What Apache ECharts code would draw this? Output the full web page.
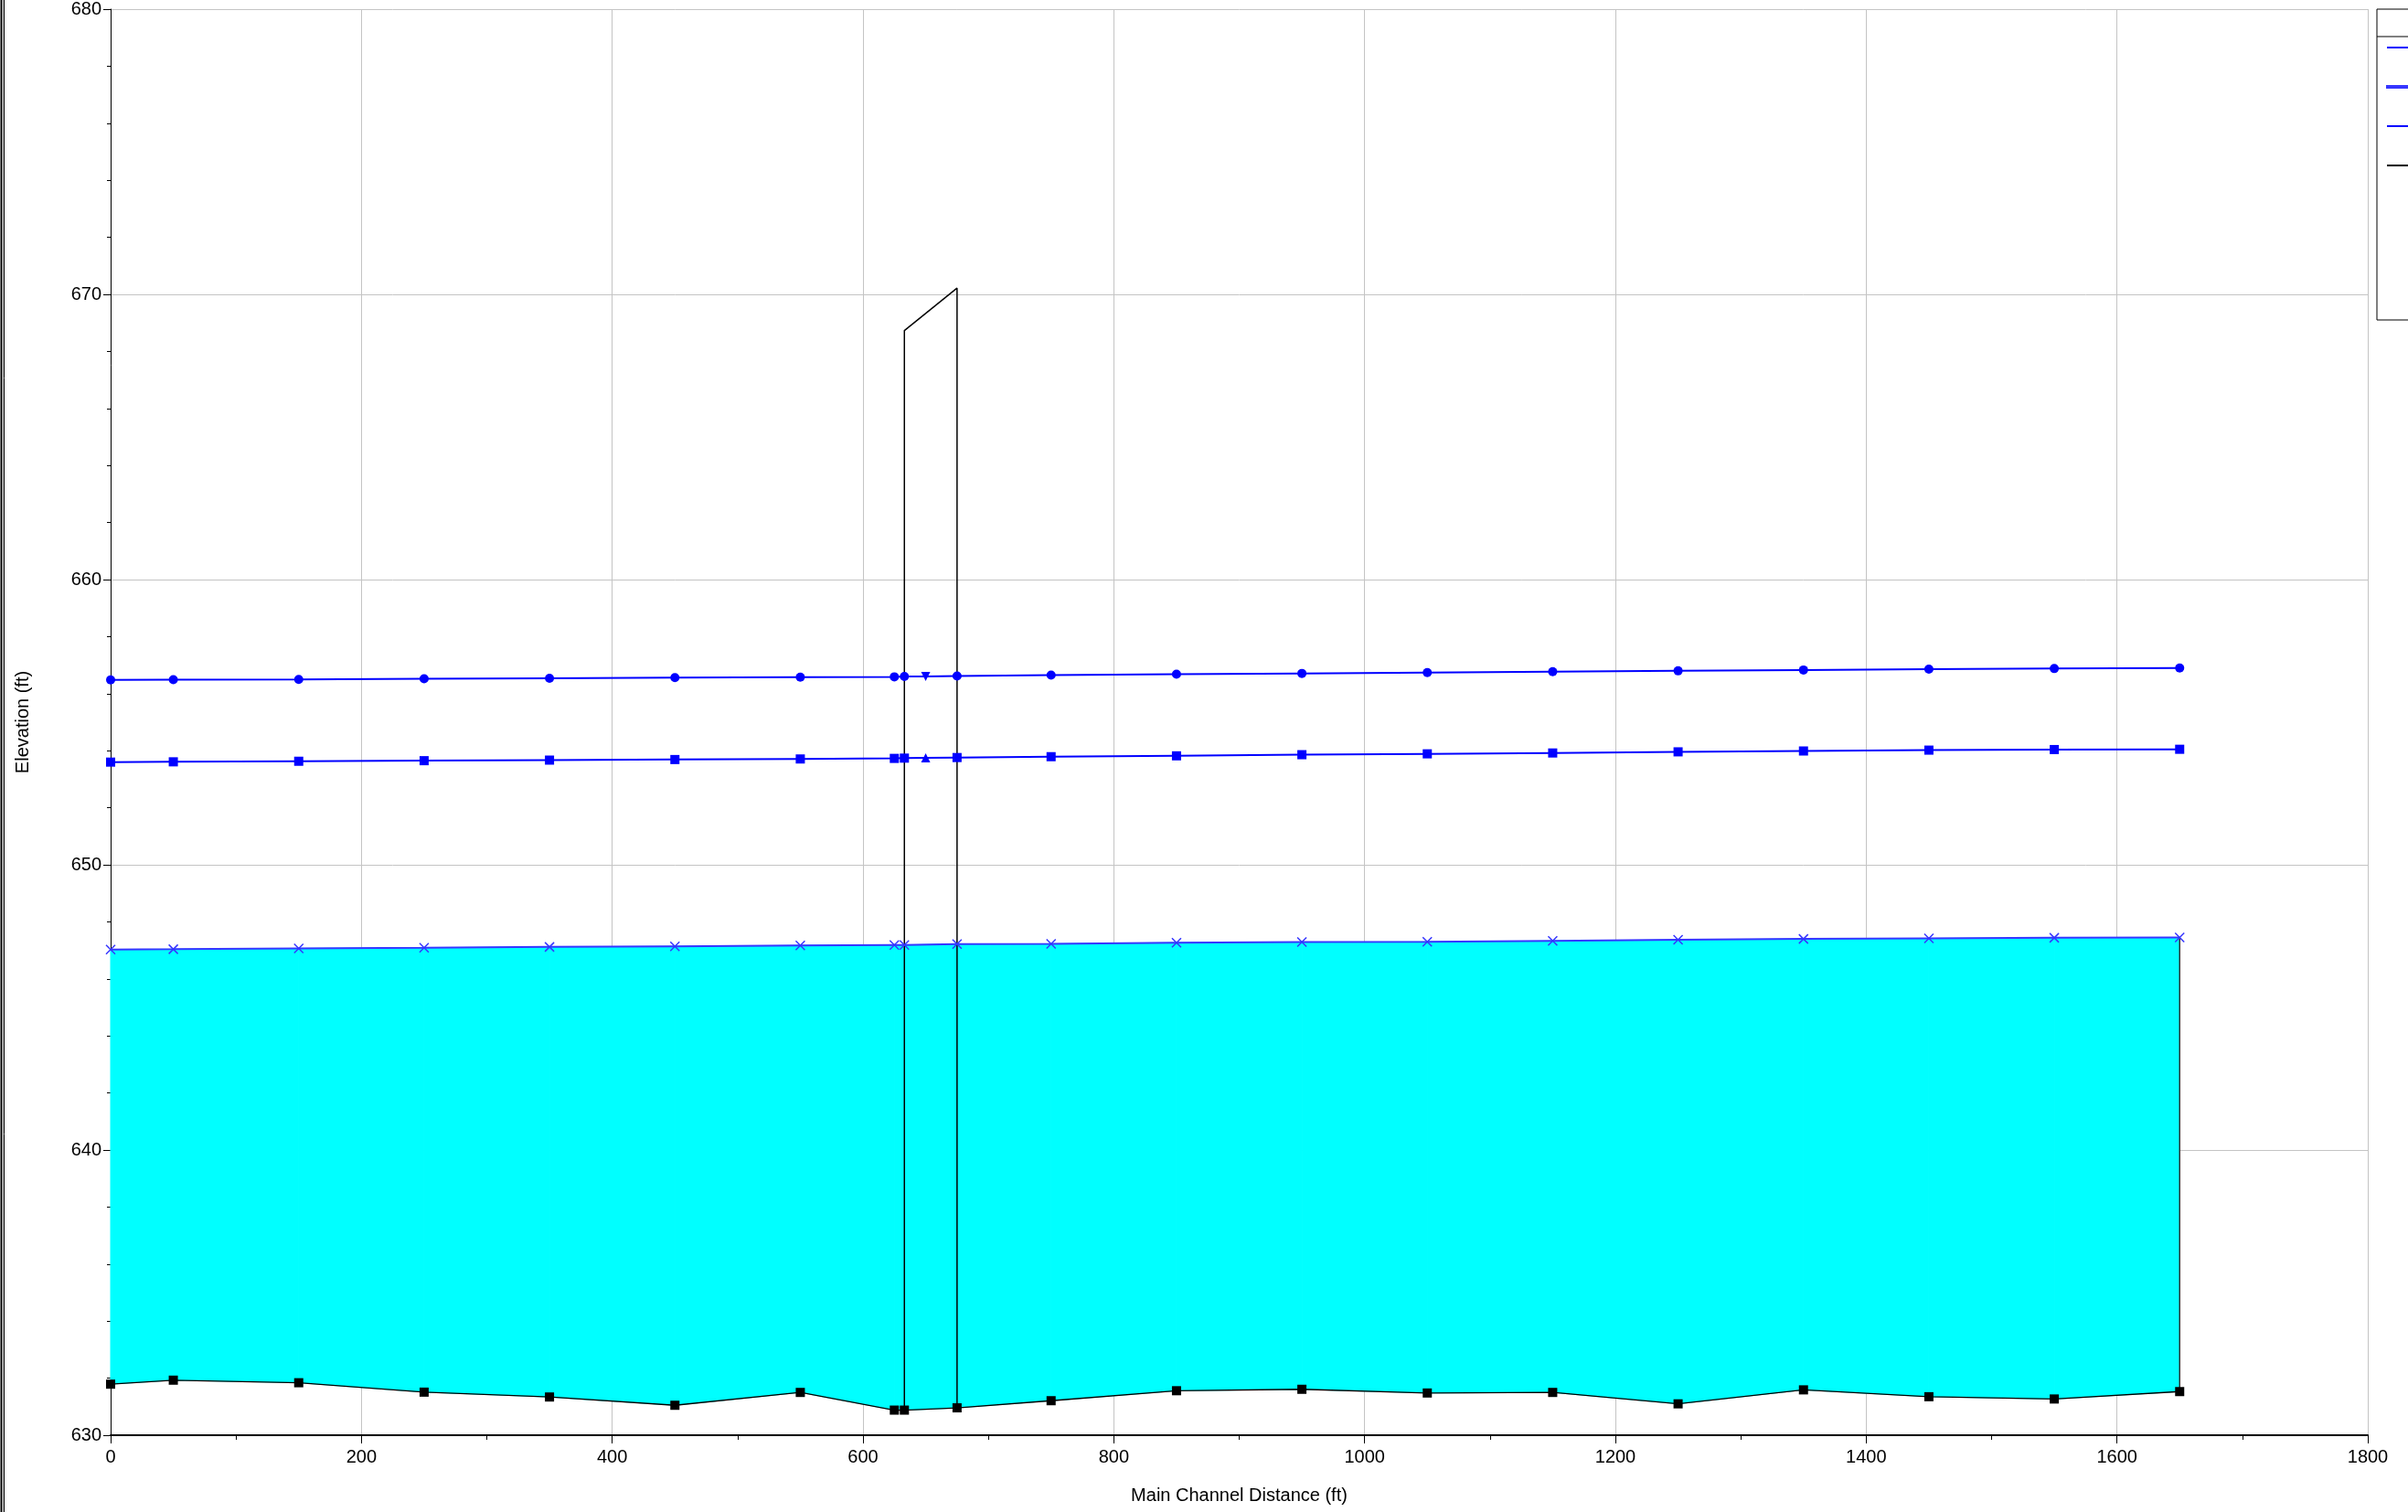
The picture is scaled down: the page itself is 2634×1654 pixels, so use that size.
<!DOCTYPE html>
<html>
<head>
<meta charset="utf-8">
<script src="https://cdn.jsdelivr.net/npm/echarts@6/dist/echarts.min.js"></script>
<style>
    html, body { margin: 0; padding: 0; background: #fff; }
    #chart { width: 2634px; height: 1654px; }
</style>
</head>
<body>
<div id="chart"></div>
<script type="text/javascript">
    // river stations along the main channel (ft)
    var stations = [0, 50, 150, 250, 350, 450, 550, 625, 633, 675, 750, 850, 950, 1050, 1150, 1250, 1350, 1450, 1550, 1650];
    var groundElev = [631.79, 631.93, 631.84, 631.51, 631.34, 631.05, 631.50, 630.88, 630.88, 630.96, 631.21, 631.56, 631.61, 631.48, 631.50, 631.10, 631.59, 631.35, 631.27, 631.53];
    var wsElev = [647.03, 647.04, 647.07, 647.09, 647.12, 647.14, 647.17, 647.19, 647.19, 647.22, 647.23, 647.27, 647.29, 647.30, 647.33, 647.37, 647.40, 647.42, 647.44, 647.45];
    var critElev = [653.60, 653.61, 653.63, 653.65, 653.67, 653.69, 653.71, 653.73, 653.74, 653.76, 653.79, 653.82, 653.86, 653.89, 653.92, 653.96, 653.99, 654.02, 654.04, 654.05];
    var egElev = [656.48, 656.49, 656.50, 656.52, 656.54, 656.56, 656.58, 656.59, 656.60, 656.62, 656.65, 656.68, 656.71, 656.74, 656.77, 656.80, 656.83, 656.86, 656.88, 656.90];

    // bridge: middle marker and deck outline
    var bridgeMid = 650;
    var egBridge = 656.60;
    var critBridge = 653.75;
    var deckDist = [633, 633, 675, 675];
    var deckElev = [630.88, 668.73, 670.22, 630.96];

    var FONT = "'Liberation Sans', Arial, sans-serif";
    var BLUE = '#0000ff';
    var WSBLUE = '#3636ff';
    var WATER = '#00ffff';

    function pairs(xs, ys) {
        var out = [];
        for (var i = 0; i < xs.length; i++) out.push([xs[i], ys[i]]);
        return out;
    }
    // insert the bridge middle point with its own marker
    function withBridge(xs, ys, midVal, sym, rot) {
        var out = pairs(xs, ys);
        out.push({value: [bridgeMid, midVal], symbol: sym, symbolRotate: rot});
        out.sort(function (a, b) {
            var xa = a.value ? a.value[0] : a[0];
            var xb = b.value ? b.value[0] : b[0];
            return xa - xb;
        });
        return out;
    }

    // water fill between ground and water surface, one quad per reach
    var waterData = [];
    for (var i = 0; i < stations.length; i++) waterData.push([stations[i], wsElev[i], groundElev[i]]);
    var last = stations.length - 1;

    function renderWater(params, api) {
        var i = params.dataIndex;
        if (i >= waterData.length - 1) return;
        var a = waterData[i], b = waterData[i + 1];
        var pts = [
            api.coord([a[0], a[1]]),
            api.coord([b[0], b[1]]),
            api.coord([b[0], b[2]]),
            api.coord([a[0], a[2]])
        ];
        return {
            type: 'polygon',
            shape: {points: pts},
            style: {fill: WATER, stroke: WATER, lineWidth: 1}
        };
    }

    var myChart = echarts.init(document.getElementById('chart'));

    var option = {
        animation: false,
        backgroundColor: '#fff',
        textStyle: {fontFamily: FONT},
        grid: {left: 121, top: 10, right: 44, bottom: 84},
        legend: {
            orient: 'vertical',
            left: 2600,
            top: 10,
            padding: [30, 10, 157, 10],
            itemGap: 19,
            itemWidth: 30,
            itemHeight: 2,
            icon: 'rect',
            borderColor: '#000',
            borderWidth: 1,
            textStyle: {fontSize: 20, lineHeight: 24, color: '#000', fontFamily: FONT},
            data: ['EG  PF 1', 'WS  PF 1', 'Crit  PF 1', 'Ground']
        },
        xAxis: {
            type: 'value',
            min: 0,
            max: 1800,
            interval: 200,
            name: 'Main Channel Distance (ft)',
            nameLocation: 'middle',
            nameGap: 56,
            nameTextStyle: {fontSize: 20, color: '#000', fontFamily: FONT},
            axisLine: {show: true, onZero: false, lineStyle: {color: '#000', width: 2}},
            axisTick: {length: 9, lineStyle: {color: '#000'}},
            minorTick: {show: true, splitNumber: 2, length: 5, lineStyle: {color: '#000'}},
            axisLabel: {fontSize: 20, color: '#000', margin: 14, fontFamily: FONT,
                formatter: function (v) { return String(v); }},
            splitLine: {show: true, lineStyle: {color: '#c4c4c4', width: 1}}
        },
        yAxis: {
            type: 'value',
            min: 630,
            max: 680,
            interval: 10,
            name: 'Elevation (ft)',
            nameLocation: 'middle',
            nameGap: 86,
            nameTextStyle: {fontSize: 20, color: '#000', fontFamily: FONT},
            axisLine: {show: true, onZero: false, lineStyle: {color: '#000', width: 1}},
            axisTick: {length: 8, lineStyle: {color: '#000'}},
            minorTick: {show: true, splitNumber: 5, length: 4, lineStyle: {color: '#000'}},
            axisLabel: {fontSize: 20, color: '#000', margin: 10, fontFamily: FONT},
            splitLine: {show: true, lineStyle: {color: '#c4c4c4', width: 1}}
        },
        graphic: [
            // legend header divider
            {type: 'line', shape: {x1: 2600, y1: 40, x2: 2634, y2: 40}, style: {stroke: '#000', lineWidth: 1}},
            // outer window frame on the left
            {type: 'line', shape: {x1: 1.5, y1: 0, x2: 1.5, y2: 1654}, style: {stroke: '#000', lineWidth: 2}},
            {type: 'line', shape: {x1: 3, y1: 0, x2: 3, y2: 1654}, style: {stroke: '#9a9a9a', lineWidth: 1}},
            {type: 'line', shape: {x1: 4.5, y1: 0, x2: 4.5, y2: 1654}, style: {stroke: '#000', lineWidth: 1}}
        ],
        series: [
            {
                name: 'water',
                type: 'custom',
                renderItem: renderWater,
                data: waterData,
                encode: {x: 0, y: [1, 2]},
                silent: true,
                z: 1
            },
            {
                name: 'Ground',
                type: 'line',
                data: pairs(stations, groundElev),
                symbol: 'rect',
                symbolSize: 10,
                itemStyle: {color: '#000'},
                lineStyle: {color: '#000', width: 1.3},
                z: 3
            },
            {
                name: 'Bridge',
                type: 'line',
                data: pairs(deckDist, deckElev),
                showSymbol: false,
                lineStyle: {color: '#000', width: 1.5},
                z: 3
            },
            {
                name: 'edge',
                type: 'line',
                data: [[stations[last], groundElev[last]], [stations[last], wsElev[last]]],
                showSymbol: false,
                lineStyle: {color: '#333', width: 1.5},
                z: 2
            },
            {
                name: 'WS  PF 1',
                type: 'line',
                data: pairs(stations, wsElev),
                symbol: 'path://M0,0 L10,10 M10,0 L0,10',
                symbolSize: 10,
                itemStyle: {color: WSBLUE, borderColor: WSBLUE, borderWidth: 1.5},
                lineStyle: {color: WSBLUE, width: 2},
                z: 4
            },
            {
                name: 'Crit  PF 1',
                type: 'line',
                data: withBridge(stations, critElev, critBridge, 'triangle', 0),
                symbol: 'rect',
                symbolSize: 10,
                itemStyle: {color: BLUE},
                lineStyle: {color: BLUE, width: 2},
                z: 4
            },
            {
                name: 'EG  PF 1',
                type: 'line',
                data: withBridge(stations, egElev, egBridge, 'triangle', 180),
                symbol: 'circle',
                symbolSize: 10,
                itemStyle: {color: BLUE},
                lineStyle: {color: BLUE, width: 2},
                z: 4
            }
        ]
    };

    myChart.setOption(option, true);
</script>
</body>
</html>
